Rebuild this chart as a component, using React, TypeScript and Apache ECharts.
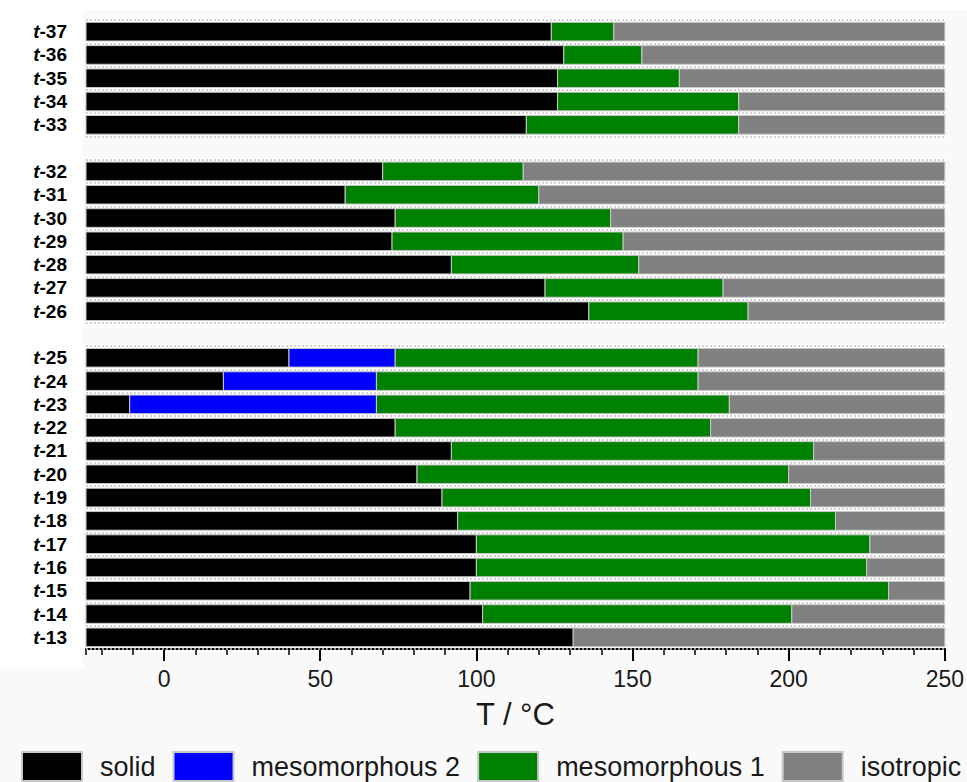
import React, { useEffect, useRef } from "react";
import * as echarts from "echarts";

const FONT = "'Liberation Sans', Arial, sans-serif";

const categories = [
  "t-37", "t-36", "t-35", "t-34", "t-33", "",
  "t-32", "t-31", "t-30", "t-29", "t-28", "t-27", "t-26", " ",
  "t-25", "t-24", "t-23", "t-22", "t-21", "t-20", "t-19", "t-18",
  "t-17", "t-16", "t-15", "t-14", "t-13",
];

// temperature (°C) where each phase ends
const solidEnd = [
  124, 128, 126, 126, 116, null,
  70, 58, 74, 73, 92, 122, 136, null,
  40, 19, -11, 74, 92, 81, 89, 94, 100, 100, 98, 102, 131,
];
const meso2End = [
  null, null, null, null, null, null,
  null, null, null, null, null, null, null, null,
  74, 68, 68, null, null, null, null, null, null, null, null, null, null,
];
const meso1End = [
  144, 153, 165, 184, 184, null,
  115, 120, 143, 147, 152, 179, 187, null,
  171, 171, 181, 175, 208, 200, 207, 215, 226, 225, 232, 201, null,
];

const X_MIN = -25;
const X_MAX = 250;

const phaseNames = ["solid", "mesomorphous 2", "mesomorphous 1", "isotropic"];
const phaseColors = ["#000000", "#0000ff", "#008000", "#808080"];

function buildPhaseData() {
  const out: number[][][] = [[], [], [], []];
  categories.forEach((_, i) => {
    const s = solidEnd[i];
    if (s == null) return;
    out[0].push([X_MIN, s, i]);
    let cur = s;
    const m2 = meso2End[i];
    if (m2 != null) {
      out[1].push([cur, m2, i]);
      cur = m2;
    }
    const m1 = meso1End[i];
    if (m1 != null) {
      out[2].push([cur, m1, i]);
      cur = m1;
    }
    out[3].push([cur, X_MAX, i]);
  });
  return out;
}

export default function App() {
  const ref = useRef<HTMLDivElement>(null);
  useEffect(() => {
    if (!ref.current) return;
    const chart = echarts.init(ref.current, null, { renderer: "svg" });
    const phaseData = buildPhaseData();

    const renderItem = (params: any, api: any) => {
      const s = api.value(0);
      const e = api.value(1);
      const c = api.value(2);
      const p0 = api.coord([s, c]);
      const p1 = api.coord([e, c]);
      const h = api.size([0, 1])[1] * 0.8;
      return {
        type: "rect",
        shape: { x: p0[0], y: p0[1] - h / 2, width: p1[0] - p0[0], height: h },
        style: api.style(),
      };
    };

    const option: any = {
      animation: false,
      backgroundColor: "#f9f9f9",
      graphic: [
        { type: "rect", z: -1, silent: true, shape: { x: 0, y: 0, width: 967, height: 10 }, style: { fill: "#ffffff" } },
        { type: "rect", z: -1, silent: true, shape: { x: 0, y: 0, width: 83, height: 668 }, style: { fill: "#ffffff" } },
      ],
      grid: { left: 86, right: 21, top: 20, bottom: 133, containLabel: false },
      legend: {
        left: 21,
        top: 751,
        padding: 0,
        itemWidth: 60,
        itemHeight: 29,
        itemGap: 17,
        icon: "rect",
        data: phaseNames,
        textStyle: { fontSize: 27, color: "#1a1a1a", fontFamily: FONT, padding: [0, 0, 0, 13] },
      },
      xAxis: [
        {
          type: "value",
          min: X_MIN,
          max: X_MAX,
          splitNumber: 5,
          position: "bottom",
          axisLine: { show: true, lineStyle: { color: "#000", width: 2 } },
          axisTick: { show: true, length: 12, lineStyle: { color: "#000", width: 2 } },
          axisLabel: { showMinLabel: false, margin: 18, fontSize: 23, color: "#1a1a1a", fontFamily: FONT },
          splitLine: { show: false },
          name: "T / °C",
          nameLocation: "middle",
          nameGap: 50,
          nameTextStyle: { fontSize: 31, color: "#1a1a1a", fontFamily: FONT },
        },
        {
          type: "value",
          min: X_MIN,
          max: X_MAX,
          splitNumber: 20,
          minInterval: 10,
          maxInterval: 10,
          position: "bottom",
          axisLine: { show: false },
          axisTick: { show: true, length: 6, lineStyle: { color: "#000", width: 1.5 } },
          axisLabel: { show: false },
          splitLine: { show: false },
        },
      ],
      yAxis: [
        {
          type: "category",
          data: categories,
          inverse: true,
          z: 1,
          axisLine: { show: false },
          axisTick: { show: false },
          axisLabel: {
            margin: 19,
            formatter: (v: string) => (v.trim() ? `{i|t}{b|${v.slice(1)}}` : ""),
            rich: {
              i: { fontStyle: "italic", fontWeight: "bold", fontSize: 19, fontFamily: FONT, color: "#000" },
              b: { fontWeight: "bold", fontSize: 19, fontFamily: FONT, color: "#000" },
            },
          },
          splitLine: { show: true, lineStyle: { color: "#c4c4c4", width: 1.5, type: [2, 2] } },
        },
        {
          type: "category",
          data: categories,
          inverse: true,
          position: "left",
          z: 0,
          axisLine: { show: false },
          axisTick: { show: false },
          axisLabel: { show: false },
          splitLine: { show: true, lineStyle: { color: "#ffffff", width: 5 } },
        },
      ],
      series: phaseNames.map((name, k) => ({
        type: "custom",
        name,
        xAxisIndex: 0,
        yAxisIndex: 0,
        renderItem,
        encode: { x: [0, 1], y: 2 },
        itemStyle: { color: phaseColors[k], borderColor: "#c8c8c8", borderWidth: 1 },
        data: phaseData[k],
        z: 2,
      })),
    };
    chart.setOption(option);
    return () => chart.dispose();
  }, []);

  return (
    <div
      ref={ref}
      style={{ position: "fixed", left: 0, top: 0, width: 967, height: 782 }}
    />
  );
}
